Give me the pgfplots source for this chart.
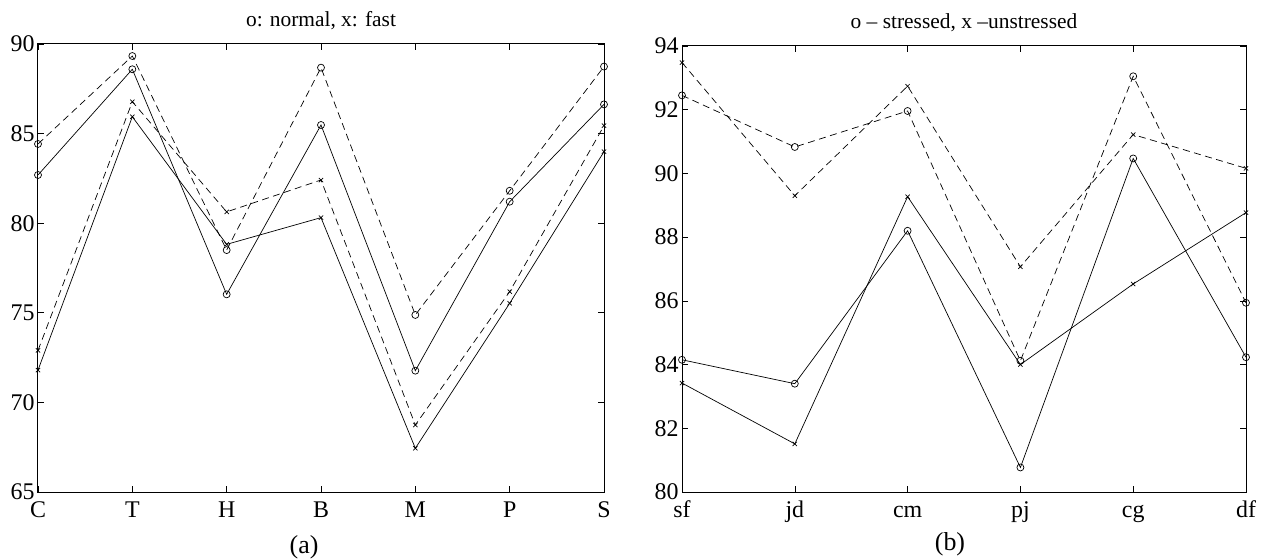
\documentclass[border=0pt]{standalone}
\usepackage{pgfplots}
\pgfplotsset{compat=1.18}
\usepackage{fontspec}
\setmainfont{Liberation Serif}
\begin{document}
\begin{tikzpicture}
\useasboundingbox (0,0) rectangle (1267bp,559bp);
\pgfplotsset{
  mystyle/.style={
    scale only axis,
    axis line style={line width=1bp},
    tick align=inside,
    xtick pos=both, ytick pos=both,
    major tick length=6bp,
    tick style={line width=0.6bp, black},
    ticklabel style={font=\fontsize{24}{24}\selectfont},
    xticklabel style={anchor=base, yshift=-25bp},
    /pgf/number format/assume math mode=true,
    every axis title shift=0pt,
    title style={font=\fontsize{21.5}{22}\selectfont, at={(0.5,1)}, anchor=base, yshift=17bp},
    clip=false,
    xtick=data,
  },
  sol/.style={black, line width=0.7bp, solid, mark options={solid}},
  dsh/.style={black, line width=0.7bp, dash pattern=on 7bp off 4.5bp, mark options={solid}},
  om/.style={mark=o, mark size=3.5bp},
  xm/.style={mark=x, mark size=3bp},
}
\begin{axis}[mystyle,
  at={(38bp,67bp)}, anchor=south west,
  width=566bp, height=448bp,
  xmin=0, xmax=6, ymin=65, ymax=90,
  ytick={65,70,75,80,85,90},
  xticklabels={C,T,H,B,M,P,S},
  title={o: normal, x: fast},
  xlabel={(a)},
  xlabel style={font=\fontsize{26}{26}\selectfont, at={(0.5,0)}, anchor=base, yshift=-61bp, xshift=-17bp},
]
\addplot[dsh,om] coordinates {(0,84.42) (1,89.33) (2,78.5) (3,88.68) (4,74.88) (5,81.81) (6,88.74)};
\addplot[sol,om] coordinates {(0,82.69) (1,88.59) (2,76.03) (3,85.48) (4,71.77) (5,81.2) (6,86.63)};
\addplot[dsh,xm] coordinates {(0,72.9) (1,86.78) (2,80.63) (3,82.41) (4,68.74) (5,76.18) (6,85.44)};
\addplot[sol,xm] coordinates {(0,71.8) (1,85.94) (2,78.82) (3,80.31) (4,67.44) (5,75.53) (6,83.99)};
\end{axis}
\begin{axis}[mystyle,
  at={(682bp,67bp)}, anchor=south west,
  width=564bp, height=446bp,
  xmin=0, xmax=5, ymin=80, ymax=94,
  ytick={80,82,...,94},
  xticklabels={sf,jd,cm,pj,cg,df},
  title={o – stressed, x –unstressed},
  xlabel={(b)},
  xlabel style={font=\fontsize{26}{26}\selectfont, at={(0.5,0)}, anchor=base, yshift=-58bp, xshift=-14bp},
]
\addplot[dsh,om] coordinates {(0,92.45) (1,90.83) (2,91.96) (3,84.12) (4,93.05) (5,85.94)};
\addplot[dsh,xm] coordinates {(0,93.48) (1,89.3) (2,92.74) (3,87.07) (4,91.22) (5,90.16)};
\addplot[sol,om] coordinates {(0,84.15) (1,83.4) (2,88.2) (3,80.77) (4,90.47) (5,84.23)};
\addplot[sol,xm] coordinates {(0,83.42) (1,81.51) (2,89.27) (3,84.0) (4,86.53) (5,88.77)};
\end{axis}
\end{tikzpicture}
\end{document}
